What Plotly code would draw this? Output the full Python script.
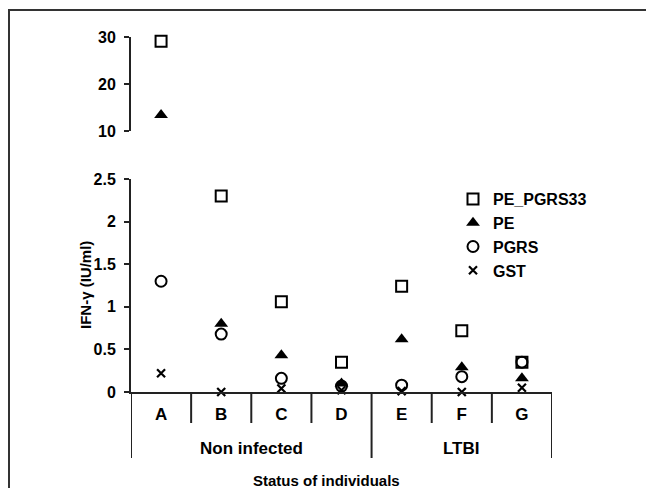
import plotly.graph_objects as go

categories = ["A", "B", "C", "D", "E", "F", "G"]
groups = ["Non infected", "LTBI"]
group_sizes = [4, 3]

pe_pgrs33 = [29.1, 2.30, 1.06, 0.35, 1.24, 0.72, 0.35]
pe = [13.4, 0.80, 0.43, 0.10, 0.62, 0.29, 0.16]
pgrs = [1.30, 0.68, 0.16, 0.07, 0.08, 0.18, 0.35]
gst = [0.22, 0.00, 0.04, 0.02, 0.01, 0.00, 0.05]

lower_ticks = [0, 0.5, 1, 1.5, 2, 2.5]
upper_ticks = [10, 20, 30]

series = [
    ("PE_PGRS33", pe_pgrs33, dict(symbol="square-open", size=11, line=dict(width=2, color="black"), color="black")),
    ("PE", pe, dict(symbol="triangle-up", size=12, color="black", line=dict(width=0))),
    ("PGRS", pgrs, dict(symbol="circle-open", size=11, line=dict(width=2, color="black"), color="black")),
    ("GST", gst, dict(symbol="x-thin", size=8, line=dict(width=2.2, color="black"), color="black")),
]

FONT = "Liberation Sans, Arial, sans-serif"
LC = "#222222"

fig = go.Figure()
xs = list(range(len(categories)))
for name, vals, mk in series:
    low = [v if v <= 2.5 else None for v in vals]
    up = [v if v >= 10 else None for v in vals]
    fig.add_trace(go.Scatter(x=xs, y=low, mode="markers", name=name, marker=mk,
                             xaxis="x", yaxis="y", cliponaxis=False, showlegend=True))
    fig.add_trace(go.Scatter(x=xs, y=up, mode="markers", name=name, marker=mk,
                             xaxis="x", yaxis="y2", cliponaxis=False, showlegend=False))

OFF = 8  # page body margin
W, H = 654 - OFF, 488 - OFF
L, T = 131 - OFF, 37 - OFF
R = W - (552 - OFF)
B = H - (392 - OFF)
pw, ph = W - L - R, H - T - B


def py(pix):
    return ((H - B) - (pix - OFF)) / ph


def px(pix):
    return ((pix - OFF) - L) / pw


fig.update_layout(
    width=W, height=H,
    margin=dict(l=L, r=R, t=T, b=B, autoexpand=False),
    paper_bgcolor="white", plot_bgcolor="white",
    font=dict(family=FONT, size=15, color="black", weight="bold"),
    xaxis=dict(range=[-0.5, len(categories) - 0.5], tickvals=xs, ticktext=categories,
               ticks="", showgrid=False, zeroline=False, showline=True, linecolor=LC,
               linewidth=2, anchor="y", tickfont=dict(size=17, weight="bold"),
               ticklabelstandoff=6),
    yaxis=dict(domain=[0, py(179)], range=[0, 2.5], tickvals=lower_ticks,
               ticktext=[f"{t:g}" for t in lower_ticks], ticks="outside", ticklen=5,
               tickwidth=2, tickcolor=LC, showgrid=False, zeroline=False, showline=True,
               linecolor=LC, linewidth=2, tickfont=dict(size=16, weight="bold"),
               ticklabelstandoff=5),
    yaxis2=dict(domain=[py(131), 1], range=[10, 30], tickvals=upper_ticks, ticks="outside",
                ticklen=5, tickwidth=2, tickcolor=LC, showgrid=False, zeroline=False,
                showline=True, linecolor=LC, linewidth=2, anchor="x",
                tickfont=dict(size=16, weight="bold"), ticklabelstandoff=5),
    legend=dict(x=px(453), y=py(182), xanchor="left", yanchor="top",
                font=dict(size=16, weight="bold"), bgcolor="rgba(0,0,0,0)",
                tracegroupgap=3, itemwidth=30),
    showlegend=True,
)

shapes = []
for i in range(len(categories) + 1):
    shapes.append(dict(type="line", xref="x", yref="paper", x0=i - 0.5, x1=i - 0.5,
                       y0=0, y1=py(423), line=dict(color=LC, width=2)))
bounds = [-0.5]
for s in group_sizes:
    bounds.append(bounds[-1] + s)
for b in bounds:
    shapes.append(dict(type="line", xref="x", yref="paper", x0=b, x1=b,
                       y0=py(423), y1=py(458), line=dict(color=LC, width=2)))
shapes.append(dict(type="path", xref="paper", yref="paper",
                   path=f"M {px(9)},{py(500)} L {px(9)},{py(10)} L {px(670)},{py(10)}",
                   line=dict(color="#333333", width=2)))
fig.update_layout(shapes=shapes)

annotations = []
for gname, a, b in zip(groups, bounds[:-1], bounds[1:]):
    annotations.append(dict(text=gname, x=(a + b) / 2, xref="x", y=py(448), yref="paper",
                            showarrow=False, font=dict(size=17, weight="bold"),
                            xanchor="center", yanchor="middle"))
annotations.append(dict(text="Status of individuals", x=px(326), xref="paper", y=py(480),
                        yref="paper", showarrow=False, font=dict(size=15, weight="bold"),
                        xanchor="center", yanchor="middle"))
annotations.append(dict(text="IFN-γ (IU/ml)", x=px(85), xref="paper", y=py(285),
                        yref="paper", showarrow=False, textangle=-90,
                        font=dict(size=15, weight="bold"), xanchor="center", yanchor="middle"))
fig.update_layout(annotations=annotations)

fig.write_html("out.html")
